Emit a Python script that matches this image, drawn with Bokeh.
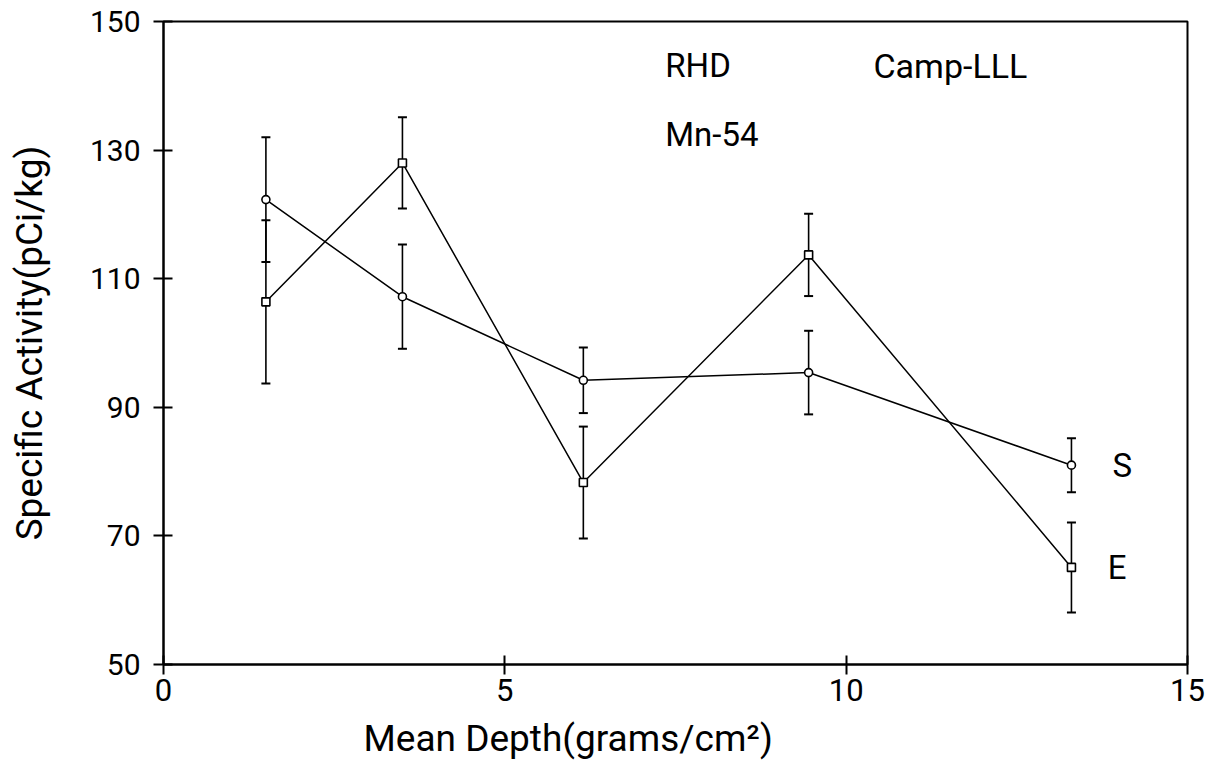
from bokeh.plotting import figure
from bokeh.models import Whisker, ColumnDataSource, Label, FixedTicker, TeeHead, Range1d, Title
from bokeh.embed import file_html
from bokeh.resources import INLINE

# ---- data ----
depth = [1.5, 3.5, 6.15, 9.45, 13.3]
s_vals = [122.3, 107.2, 94.2, 95.4, 81.0]
s_err = [9.7, 8.1, 5.1, 6.5, 4.2]
e_vals = [106.4, 128.0, 78.3, 113.7, 65.1]
e_err = [12.7, 7.1, 8.7, 6.4, 7.0]
x_ticks = [0, 5, 10, 15]
y_ticks = [50, 70, 90, 110, 130, 150]
series_names = ["S", "E"]

FONT = "Roboto"

p = figure(width=1210, height=770, output_backend="svg", toolbar_location=None,
           x_range=Range1d(0, 15), y_range=Range1d(50, 150),
           min_border_left=163, min_border_right=23, min_border_top=21, min_border_bottom=104)
p.background_fill_color = "white"
p.border_fill_color = "white"
p.outline_line_color = "black"
p.outline_line_width = 2
p.xgrid.visible = False
p.ygrid.visible = False

for ax in (p.xaxis[0], p.yaxis[0]):
    ax.axis_line_color = "black"
    ax.axis_line_width = 2
    ax.major_tick_line_color = "black"
    ax.major_tick_line_width = 2
    ax.major_tick_in = 9
    ax.major_tick_out = 10
    ax.minor_tick_line_color = None
    ax.major_label_text_font = FONT
    ax.major_label_text_color = "black"
p.xaxis.major_label_text_font_size = "31px"
p.yaxis.major_label_text_font_size = "30px"
p.xaxis.ticker = FixedTicker(ticks=x_ticks)
p.yaxis.ticker = FixedTicker(ticks=y_ticks)
p.xaxis.major_label_standoff = 4
p.yaxis.major_label_standoff = 13

p.yaxis.axis_label = "Specific Activity(pCi/kg)"
p.yaxis.axis_label_text_font = FONT
p.yaxis.axis_label_text_font_size = "37px"
p.yaxis.axis_label_text_font_style = "normal"
p.yaxis.axis_label_text_color = "black"
p.yaxis.axis_label_standoff = 36

xt = Title(text="Mean Depth(grams/cm²)", align="left", offset=200,
           text_font=FONT, text_font_size="37px", text_font_style="normal",
           text_color="black", standoff=22)
p.add_layout(xt, "below")

# lines
p.line(depth, s_vals, line_color="black", line_width=1.5)
p.line(depth, e_vals, line_color="black", line_width=1.5)

# error bars
for vals, errs in ((s_vals, s_err), (e_vals, e_err)):
    src = ColumnDataSource(dict(x=depth,
                                upper=[v + e for v, e in zip(vals, errs)],
                                lower=[v - e for v, e in zip(vals, errs)]))
    w = Whisker(source=src, base="x", upper="upper", lower="lower",
                line_color="black", line_width=1.6,
                upper_head=TeeHead(size=9, line_color="black", line_width=2),
                lower_head=TeeHead(size=9, line_color="black", line_width=2))
    p.add_layout(w)

# markers
p.scatter(depth, s_vals, marker="circle", size=8, fill_color="white",
          line_color="black", line_width=1.6)
p.scatter(depth, e_vals, marker="square", size=8, fill_color="white",
          line_color="black", line_width=1.6)

def lab(x, y, t, align="left", baseline="middle", size="33px"):
    p.add_layout(Label(x=x, y=y, text=t, text_font=FONT, text_font_size=size,
                       text_color="black", text_align=align, text_baseline=baseline))

lab(7.35, 143.1, "RHD")
lab(10.4, 143.1, "Camp-LLL", size="34px")
lab(7.35, 132.5, "Mn-54")
lab(13.9, s_vals[-1], series_names[0])
lab(13.83, e_vals[-1], series_names[1])

open("out.html", "w").write(file_html(p, INLINE))
